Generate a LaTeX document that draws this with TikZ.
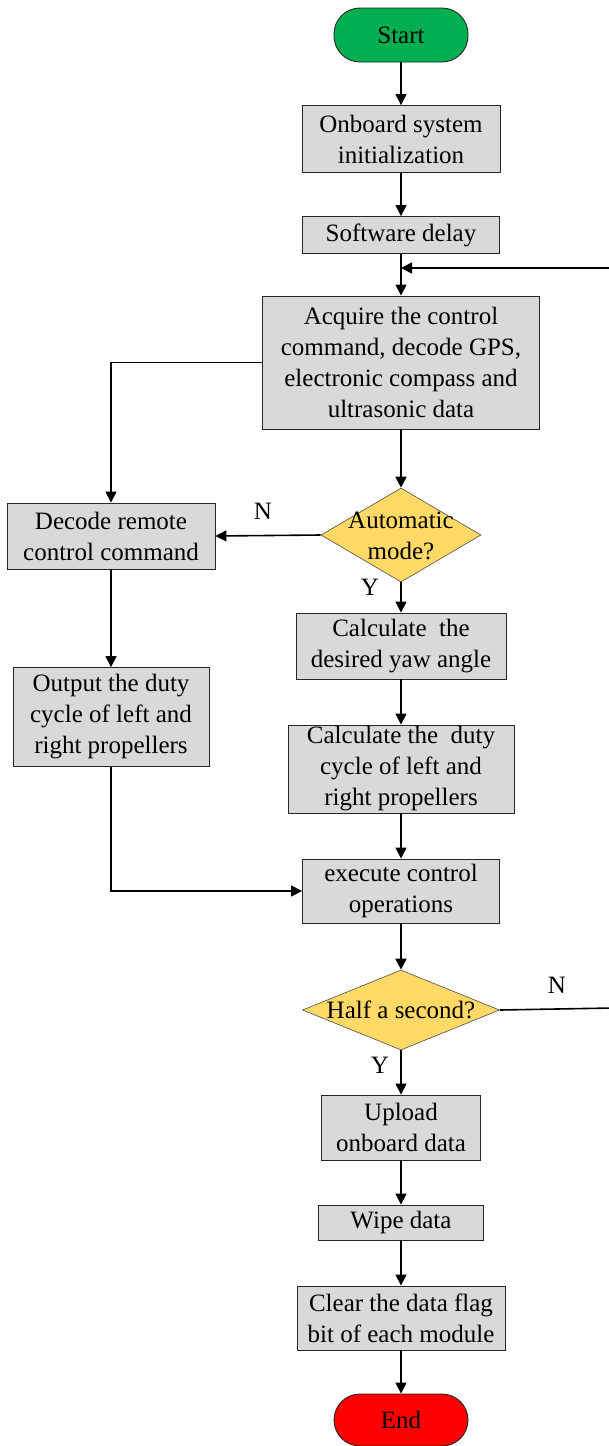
\documentclass[tikz,border=0pt]{standalone}
\usepackage{fontspec}
\setmainfont{Liberation Serif}
\usetikzlibrary{shapes.geometric,arrows.meta}
\definecolor{startgreen}{HTML}{00B050}
\definecolor{boxgray}{HTML}{D9D9D9}
\definecolor{decyellow}{HTML}{FFD966}
\definecolor{endred}{HTML}{FF0000}
\begin{document}
\begin{tikzpicture}[x=1pt,y=-1pt,
  txt/.style={font=\fontsize{25}{31}\selectfont, align=center},
  box/.style={txt, draw=black!85, fill=boxgray, line width=0.9pt, inner sep=0pt},
  term/.style={txt, draw=black!85, line width=0.9pt, inner sep=0pt, rounded corners=26pt, minimum width=134pt},
  dec/.style={diamond, draw=black!70, fill=decyellow, line width=0.6pt, inner sep=0pt},
  arr/.style={line width=1.6pt, -{Triangle[length=11pt,width=11pt]}},
  ln/.style={line width=1.6pt}]
\useasboundingbox (0,0) rectangle (609,1446);
\clip (0,0) rectangle (609,1446);

\node[term, fill=startgreen, minimum height=54pt] (start) at (401,35) {Start};
\node[box, minimum width=198pt, minimum height=67pt] (onboard) at (401,139) {Onboard system\\initialization};
\node[box, minimum width=197pt, minimum height=37pt] (delay) at (401,235) {Software delay};
\coordinate (loopin) at (401,268);
\node[box, minimum width=277pt, minimum height=133pt] (acquire) at (401,362.5) {Acquire the control\\command, decode GPS,\\electronic compass and\\ultrasonic data};
\node[dec, minimum width=160pt, minimum height=94pt] (auto) at (401,535) {};
\node[txt] (autot) at (401,536) {Automatic\\mode?};
\node[box, minimum width=208pt, minimum height=66pt] (decode) at (111,536) {Decode remote\\control command};
\node[box, minimum width=196pt, minimum height=99pt] (output) at (111,717) {Output the duty\\cycle of left and\\right propellers};
\node[box, minimum width=210pt, minimum height=66pt] (yaw) at (401,646) {Calculate\ \ the\\desired yaw angle};
\node[box, minimum width=226pt, minimum height=88pt] (duty) at (401,769) {Calculate the\ \ duty\\cycle of left and\\right propellers};
\node[box, minimum width=197pt, minimum height=64pt] (exec) at (401,891) {execute control\\operations};
\node[dec, minimum width=197pt, minimum height=80pt] (half) at (401,1010) {};
\node[txt] (halft) at (401,1010) {Half a second?};
\node[box, minimum width=159pt, minimum height=65pt] (upload) at (401,1127.5) {Upload\\onboard data};
\node[box, minimum width=165pt, minimum height=35pt] (wipe) at (401,1222.5) {Wipe data};
\node[box, minimum width=208pt, minimum height=64pt] (clear) at (401,1318) {Clear the data flag\\bit of each module};
\node[term, fill=endred, minimum height=52pt] (end) at (401,1420) {End};

\node[txt] (n1) at (263,511) {N};
\node[txt] (y1) at (370,587) {Y};
\node[txt] (n2) at (557,985) {N};
\node[txt] (y2) at (380,1065) {Y};

\draw[arr] (start) -- (onboard);
\draw[arr] (onboard) -- (delay);
\draw[arr] (delay) -- (acquire);
\draw[arr] (acquire) -- (auto);
\draw[arr] (acquire.west) -| (decode.north);
\draw[arr] (auto.west) -- (decode.east);
\draw[arr] (auto.south) -- (yaw.north);
\draw[arr] (decode) -- (output);
\draw[arr] (yaw) -- (duty);
\draw[arr] (duty) -- (exec);
\draw[arr] (output.south) |- (exec.west);
\draw[arr] (exec) -- (half);
\draw[arr] (half.south) -- (upload.north);
\draw[arr] (upload) -- (wipe);
\draw[arr] (wipe) -- (clear);
\draw[arr] (clear) -- (end);
\draw[arr] (half.east) -- (613,1008) |- (loopin);
\end{tikzpicture}
\end{document}
